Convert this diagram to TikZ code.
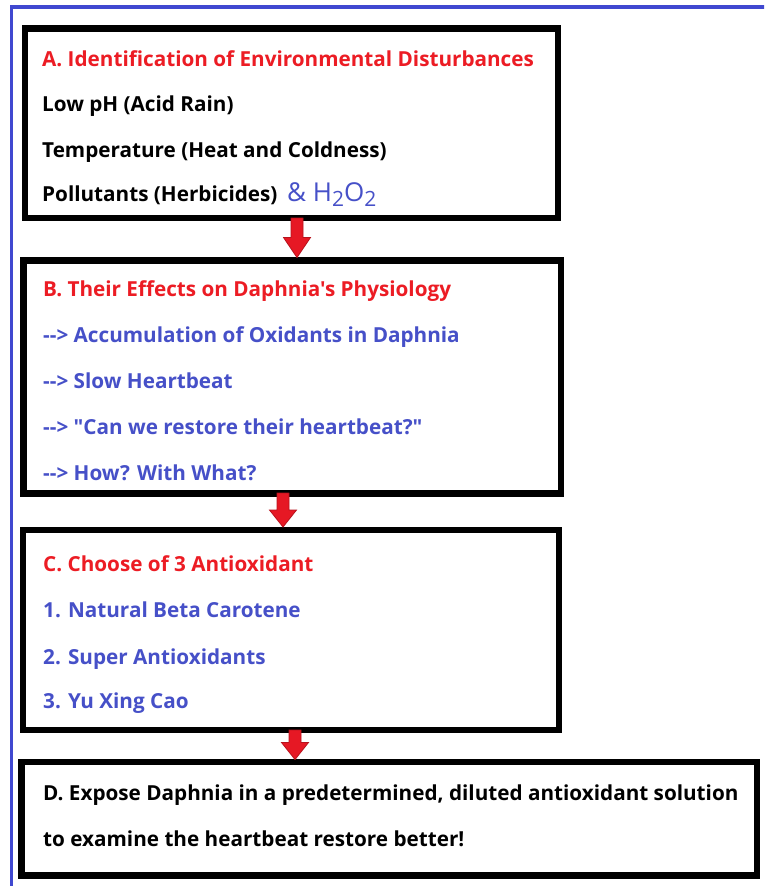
\documentclass[tikz,border=0pt]{standalone}
\usepackage{fontspec}
\setmainfont{Open Sans}[Ligatures=TeXOff]
\usetikzlibrary{arrows.meta}
\definecolor{tred}{RGB}{236,28,36}
\definecolor{tblue}{RGB}{70,80,200}
\definecolor{fblue}{RGB}{64,72,208}
\definecolor{ared}{RGB}{230,24,36}
\newcommand{\sbs}[1]{\raisebox{-5pt}{\fontsize{21}{21}\selectfont #1}}
\tikzset{
  x=1pt, y=-1pt,
  box/.style={draw=black, line width=6.5pt, fill=white, inner sep=0pt, rectangle},
  txt/.style={anchor=base west, inner sep=0pt, font=\fontsize{20.7}{24}\selectfont\bfseries},
  ttl/.style={txt, text=tred},
  bl/.style={txt, text=tblue},
  flow/.style={draw=ared!80!black, line width=0.8pt, fill=ared},
  frame/.style={draw=fblue, line width=3.5pt}
}
\begin{document}
\begin{tikzpicture}
\useasboundingbox (0,0) rectangle (764,886);
\clip (0,0) rectangle (764,886);
\fill[white] (0,0) rectangle (764,886);
\draw[frame] (11.5,900) -- (11.5,7) -- (780,7);

% boxes
\node[box, minimum width=533pt, minimum height=189.5pt] (A) at (291.5,123.25) {};
\node[box, minimum width=537.5pt, minimum height=233pt] (B) at (292.25,377) {};
\node[box, minimum width=536pt, minimum height=200pt] (C) at (291,630) {};
\node[box, minimum width=735.5pt, minimum height=113.5pt] (D) at (389.25,818.75) {};

% arrows (single-arrow polygons)
\coordinate (a1s) at (297,218);
\coordinate (a1e) at (297,257.5);
\coordinate (a2s) at (283,493);
\coordinate (a2e) at (283,527);
\coordinate (a3s) at (295,730);
\coordinate (a3e) at (295,759.5);
\foreach \s/\e/\h in {a1s/a1e/20, a2s/a2e/17, a3s/a3e/17}{
  \draw[flow] ([xshift=-6pt]\s) -- ([xshift=-6pt,yshift=\h pt]\e) -- ([xshift=-13.5pt,yshift=\h pt]\e)
    -- (\e) -- ([xshift=13.5pt,yshift=\h pt]\e) -- ([xshift=6pt,yshift=\h pt]\e) -- ([xshift=6pt]\s) -- cycle;
}

% texts A
\node[ttl] (ta) at (42,66.7) {A. Identification of Environmental Disturbances};
\node[txt] (ta1) at (42,111.7) {Low pH (Acid Rain)};
\node[txt] (ta2) at (42,157.3) {Temperature (Heat and Coldness)};
\node[txt] (ta3) at (42,201.7) {Pollutants (Herbicides)};
\node[anchor=base west, inner sep=0pt, text=tblue, font=\fontsize{26}{30}\selectfont] (ta4) at (287,201.5) {\&~H\sbs{2}O\sbs{2}};

% texts B
\node[ttl] (tb) at (43,296.7) {B. Their Effects on Daphnia's Physiology};
\node[bl] (tb1) at (43,342) {--> Accumulation of Oxidants in Daphnia};
\node[bl] (tb2) at (43,388) {--> Slow Heartbeat};
\node[bl] (tb3) at (43,434) {--> "Can we restore their heartbeat?"};
\node[bl] (tb4) at (43,480) {--> How? With What?};

% texts C
\node[ttl] (tc) at (43,571.7) {C. Choose of 3 Antioxidant};
\node[bl] (tc1) at (43,617.7) {1. Natural Beta Carotene};
\node[bl] (tc2) at (43,664) {2. Super Antioxidants};
\node[bl] (tc3) at (43,708.3) {3. Yu Xing Cao};

% texts D
\node[txt] (td1) at (43,800.5) {D. Expose Daphnia in a predetermined, diluted antioxidant solution};
\node[txt] (td2) at (43,846) {to examine the heartbeat restore better!};
\end{tikzpicture}
\end{document}
